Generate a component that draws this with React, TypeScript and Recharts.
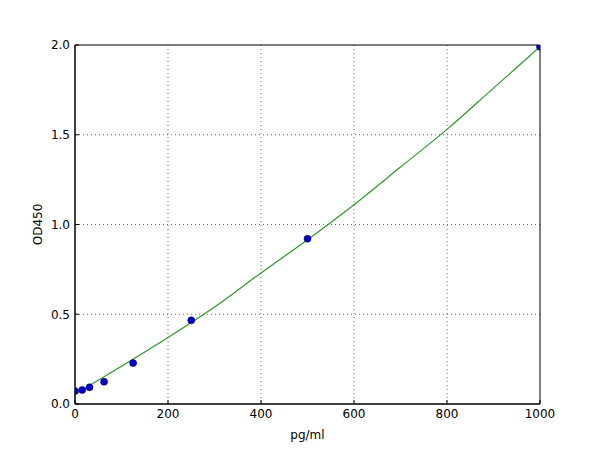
import React from 'react';
import { ComposedChart, Line, Scatter, XAxis, YAxis, CartesianGrid, Label, ReferenceArea } from 'recharts';

// standards (pg/ml) and measured OD450
const standardConc = [0, 15.6, 31.25, 62.5, 125, 250, 500, 1000];
const standardOd = [0.072, 0.078, 0.093, 0.124, 0.228, 0.466, 0.921, 1.99];

// fitted curve
const curveConc = [0, 100, 200, 300, 400, 500, 600, 700, 800, 900, 1000];
const curveOd = [0.055, 0.21, 0.37, 0.54, 0.73, 0.915, 1.11, 1.32, 1.53, 1.76, 1.99];

const xTicks = [0, 200, 400, 600, 800, 1000];
const yTicks = [0, 0.5, 1.0, 1.5, 2.0];

const points = standardConc.map((x, i) => ({ x, y: standardOd[i] }));
const curve = curveConc.map((x, i) => ({ x, y: curveOd[i] }));

const font = { fontFamily: 'DejaVu Sans', fontSize: 12, fill: '#000' };

const App: React.FC = () => {
  return (
    <div style={{ position: 'absolute', left: 0, top: 0, width: 600, height: 450, background: '#fff' }}>
      <ComposedChart width={600} height={450} margin={{ top: 45, right: 60, left: 0, bottom: 0 }}>
        <CartesianGrid
          stroke="#666"
          strokeDasharray="1 3"
          horizontalValues={[0.5, 1.0, 1.5]}
          verticalValues={[200, 400, 600, 800]}
        />
        <XAxis
          type="number"
          dataKey="x"
          domain={[0, 1000]}
          ticks={xTicks}
          height={46}
          tickSize={-4}
          tickMargin={9}
          stroke="#000"
          tick={font}
          allowDataOverflow
        >
          <Label value="pg/ml" position="insideBottom" offset={11} style={{ fontFamily: 'DejaVu Sans', fontSize: 12, fill: '#000' }} />
        </XAxis>
        <YAxis
          type="number"
          dataKey="y"
          domain={[0, 2]}
          ticks={yTicks}
          width={75}
          tickSize={-4}
          tickMargin={9}
          stroke="#000"
          tick={font}
          tickFormatter={(v: number) => v.toFixed(1)}
          allowDataOverflow
        >
          <Label
            value="OD450"
            angle={-90}
            position="insideLeft"
            offset={38}
            style={{ fontFamily: 'DejaVu Sans', fontSize: 12, fill: '#000', textAnchor: 'middle' }}
          />
        </YAxis>
        <ReferenceArea x1={0} x2={1000} y1={0} y2={2} fill="none" stroke="#000" strokeWidth={1} ifOverflow="visible" />
        <Line
          data={curve}
          dataKey="y"
          type="monotone"
          stroke="#2a9a2a"
          strokeWidth={1.2}
          dot={false}
          isAnimationActive={false}
        />
        <Scatter
          data={points}
          dataKey="y"
          fill="#0000c8"
          stroke="#000060"
          strokeWidth={0.6}
          shape={(p: any) => <circle cx={p.cx} cy={p.cy} r={3.5} fill="#0000c8" stroke="#000060" strokeWidth={0.6} />}
          isAnimationActive={false}
        />
      </ComposedChart>
    </div>
  );
};

export default App;
